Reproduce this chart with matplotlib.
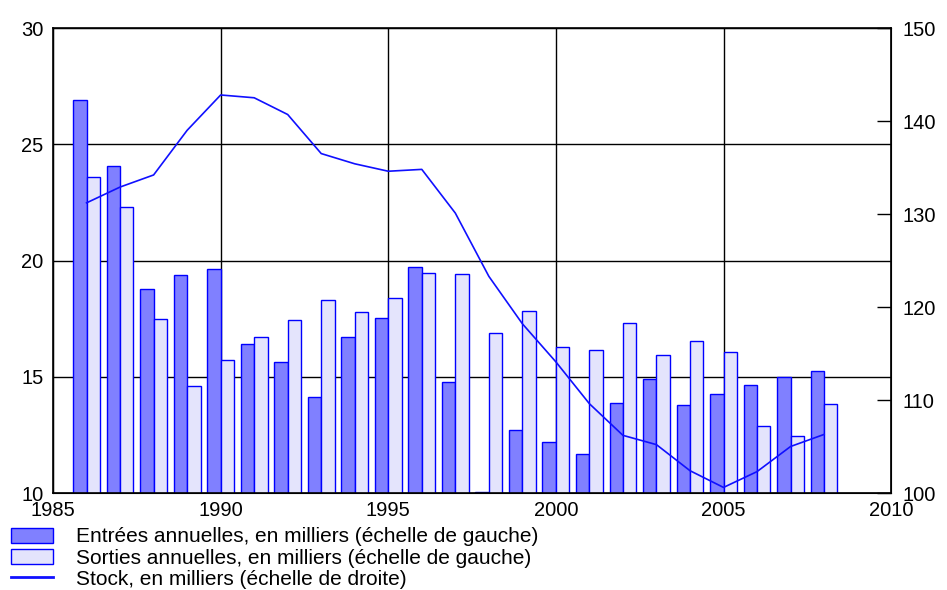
import numpy as np
import matplotlib
matplotlib.use('Agg')
import matplotlib.pyplot as plt

plt.rcParams['font.family'] = ['Liberation Sans', 'DejaVu Sans']

years = list(range(1986, 2009))
entrees = [26.9, 24.05, 18.76, 19.36, 19.62, 16.41, 15.63, 14.11, 16.70, 17.51, 19.71, 14.76,
           10.05, 12.71, 12.18, 11.66, 13.86, 14.89, 13.77, 14.24, 14.63, 14.99, 15.23]
sorties = [23.6, 22.3, 17.47, 14.59, 15.71, 16.70, 17.43, 18.29, 17.77, 18.37, 19.45, 19.41,
           16.87, 17.81, 16.27, 16.15, 17.30, 15.92, 16.52, 16.05, 12.87, 12.44, 13.81]
stock = [131.2, 132.9, 134.2, 139.0, 142.8, 142.5, 140.7, 136.5, 135.4, 134.6, 134.8, 130.1,
         123.3, 118.2, 114.1, 109.6, 106.2, 105.2, 102.4, 100.6, 102.3, 105.0, 106.3]

x = np.array(years)

fig = plt.figure(figsize=(9.47, 5.90), dpi=100)
ax = fig.add_axes([0.056, 0.1644, 0.885, 0.7881])

w = 0.4
b1 = ax.bar(x - w / 2, entrees, width=w, color='#8080FF', edgecolor='#0000FF', linewidth=1,
            label='Entrées annuelles, en milliers (échelle de gauche)')
b2 = ax.bar(x + w / 2, sorties, width=w, color='#E4E4FC', edgecolor='#0000FF', linewidth=1,
            label='Sorties annuelles, en milliers (échelle de gauche)')

ax.set_xlim(1985, 2010)
ax.set_ylim(10, 30)
ax.set_xticks(range(1985, 2011, 5))
ax.set_yticks(range(10, 31, 5))
ax.set_axisbelow(True)
ax.grid(True, color='black', linewidth=1)
ax.tick_params(axis='both', length=0, labelsize=14.5)
ax.tick_params(axis='y', pad=7)
ax.tick_params(axis='x', pad=6)
for s in ax.spines.values():
    s.set_linewidth(1.2)

ax2 = ax.twinx()
ln, = ax2.plot(x, stock, color='#1010FF', linewidth=1.2,
               label='Stock, en milliers (échelle de droite)')
ax2.set_ylim(100, 150)
ax2.set_yticks(range(100, 151, 10))
ax2.tick_params(axis='y', direction='in', length=10, width=1, labelsize=14.5, pad=8)

leg = fig.legend(handles=[b1, b2, ln], loc='upper left', bbox_to_anchor=(0.012, 0.106),
                 frameon=False, fontsize=15, handlelength=2.0, handleheight=0.75,
                 handletextpad=1.1, labelspacing=0.1, borderpad=0, borderaxespad=0)
leg.get_lines()[0].set_linewidth(2)

fig.savefig('out.png', dpi=100)
